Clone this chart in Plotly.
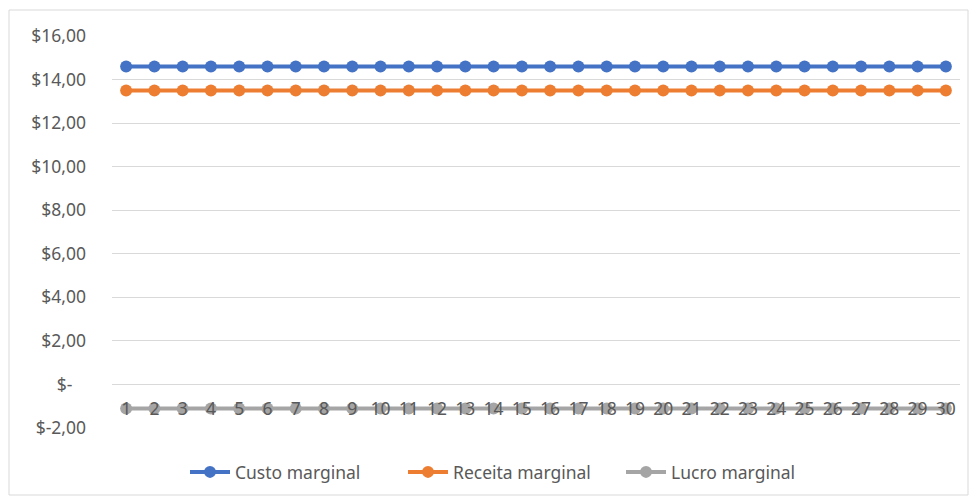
import plotly.graph_objects as go

# Marginal analysis per unit (1..30)
unidades = list(range(1, 31))
custo_marginal = [14.6] * 30
receita_marginal = [13.5] * 30
lucro_marginal = [-1.1] * 30

y_ticks = [-2, 0, 2, 4, 6, 8, 10, 12, 14, 16]
y_ticktext = ["$-2,00", "$-\u00a0\u00a0\u00a0", "$2,00", "$4,00", "$6,00", "$8,00",
              "$10,00", "$12,00", "$14,00", "$16,00"]

FONT = "Noto Sans"
TXT = "#595959"
FS = 17.5

fig = go.Figure()
series = [
    ("Custo marginal", custo_marginal, "#4472C4"),
    ("Receita marginal", receita_marginal, "#ED7D31"),
    ("Lucro marginal", lucro_marginal, "#A5A5A5"),
]
for name, vals, color in series:
    fig.add_trace(go.Scatter(
        x=unidades, y=vals, name=name, mode="lines+markers",
        line=dict(color=color, width=4),
        marker=dict(color=color, size=12),
    ))

L, R, T, B = 112, 11, 36, 73
W, H = 971, 501
pw, ph = W - L - R, H - T - B

fig.update_layout(
    width=W, height=H,
    margin=dict(l=L, r=R, t=T, b=B),
    paper_bgcolor="white", plot_bgcolor="white",
    font=dict(family=FONT, color=TXT, size=FS),
    showlegend=True,
    legend=dict(orientation="h", x=(512 - L) / pw, xanchor="center",
                y=(ph - (472 - T)) / ph, yanchor="middle",
                font=dict(size=FS, color=TXT), itemwidth=40,
                entrywidth=163, entrywidthmode="pixels",
                bgcolor="rgba(0,0,0,0)"),
    xaxis=dict(range=[0.5, 30.5], tickvals=unidades, ticktext=[str(u) for u in unidades],
               showgrid=False, zeroline=False, showline=False, ticks="",
               anchor="free", position=2 / 18, ticklabelstandoff=12,
               tickfont=dict(size=FS, color=TXT), layer="above traces"),
    yaxis=dict(range=[-2, 16], tickvals=y_ticks, ticktext=y_ticktext,
               showgrid=True, gridcolor="#D9D9D9", gridwidth=1,
               zeroline=False, showline=False, ticks="",
               ticklabelstandoff=25, tickfont=dict(size=FS, color=TXT)),
)

# Chart frame
fig.add_shape(type="rect", xref="paper", yref="paper",
              x0=(9 - L) / pw, x1=(968 - L) / pw,
              y0=(ph - (495 - T)) / ph, y1=(ph - (10 - T)) / ph,
              line=dict(color="#D9D9D9", width=1), fillcolor="rgba(0,0,0,0)", layer="below")

fig.write_html("out.html")
